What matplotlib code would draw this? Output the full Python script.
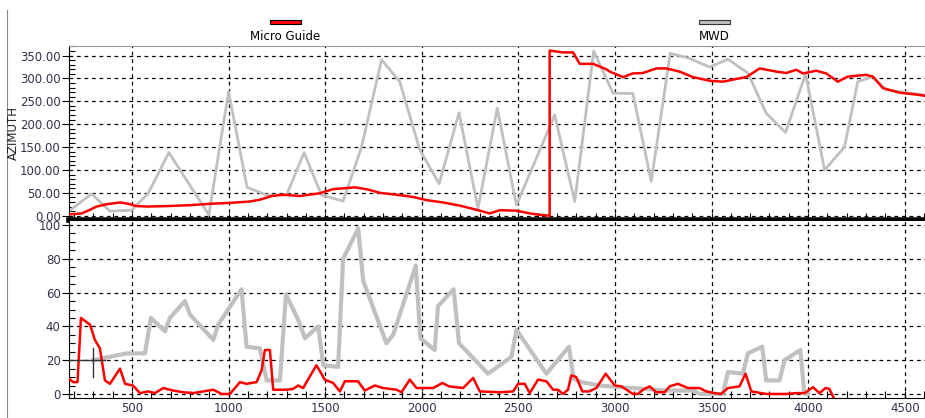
import matplotlib.pyplot as plt
from matplotlib.ticker import MultipleLocator, FormatStrFormatter
from matplotlib.lines import Line2D
from matplotlib.patches import Rectangle

# depth / azimuth - Micro Guide (red) and MWD (gray)
mg_az_depth = [174, 240, 283, 317, 369, 438, 481, 524, 582, 679, 800, 903, 1006, 1110, 1162,
               1223, 1281, 1369, 1436, 1472, 1540, 1654, 1714, 1783, 1886, 1955, 2025, 2110,
               2197, 2283, 2352, 2404, 2490, 2559, 2611, 2662, 2662, 2731, 2783, 2818, 2887,
               2956, 2973, 3042, 3092, 3145, 3214, 3266, 3335, 3404, 3490, 3559, 3628, 3680,
               3749, 3835, 3887, 3939, 3973, 4042, 4094, 4154, 4205, 4300, 4335, 4387, 4473,
               4576, 4605]
mg_az = [3, 5, 13, 20, 25, 29, 26, 21, 20, 21, 23, 26, 28, 31, 35,
         43, 46, 43, 47, 49, 58, 62, 58, 50, 45, 41, 34, 29,
         22, 13, 5, 12, 11, 5, 2, 0, 361, 357, 357, 332, 332,
         320, 315, 303, 311, 312, 322, 322, 315, 303, 295, 293, 299, 303,
         322, 315, 312, 319, 311, 317, 311, 293, 304, 308, 304, 279, 269,
         264, 262]

mwd_az_depth = [174, 291, 386, 498, 584, 691, 898, 1000, 1096, 1197, 1300, 1391, 1481, 1593,
                1688, 1792, 1886, 1990, 2090, 2193, 2291, 2391, 2490, 2688, 2792, 2890, 2990,
                3093, 3188, 3286, 3386, 3490, 3585, 3688, 3783, 3883, 3987, 4085, 4188, 4257,
                4335, 4404, 4602]
mwd_az = [10, 48, 10, 12, 49, 138, 2, 271, 62, 45, 45, 138, 45, 32,
          150, 341, 293, 144, 70, 225, 16, 235, 23, 220, 31, 360, 268,
          267, 75, 355, 344, 325, 342, 312, 224, 182, 310, 100, 150, 293,
          304, 275, 264]

# lower panel values
mg_low_depth = [174, 196, 218, 236, 283, 308, 334, 360, 386, 438, 464, 505, 541, 584, 619, 662,
                714, 765, 817, 869, 921, 964, 1007, 1059, 1093, 1145, 1171, 1188, 1214, 1231,
                1300, 1334, 1360, 1386, 1429, 1455, 1498, 1541, 1576, 1602, 1670, 1705, 1757,
                1800, 1869, 1895, 1938, 1973, 2059, 2107, 2141, 2214, 2266, 2300, 2404, 2473,
                2499, 2533, 2559, 2602, 2645, 2680, 2705, 2731, 2757, 2774, 2800, 2831, 2866,
                2904, 2952, 2999, 3033, 3093, 3119, 3145, 3179, 3214, 3257, 3283, 3326, 3378,
                3438, 3473, 3516, 3550, 3585, 3645, 3676, 3706, 3783, 3887, 3939, 3982, 4025,
                4059, 4090, 4110, 4135]
mg_low = [9, 7, 7, 45, 41, 32, 27, 8, 6, 15, 6, 5, 0.5, 1.5, 0.5, 3.5,
          2, 1, 0.5, 1.5, 2.5, 0, 0, 7, 6, 7, 14, 26, 26, 2.5,
          2.5, 3, 5, 3.5, 12, 17, 8.5, 6.5, 1.5, 7.5, 7.5, 2, 5,
          3.5, 2.5, 1, 8.5, 3.5, 3.5, 6.5, 4.5, 3.5, 9.5, 1.5, 1, 1.5,
          6, 6, 0.5, 8.5, 7.5, 2.5, 2.5, 0, 2.5, 11, 10, 1.5, 1.5,
          3.5, 12, 5, 4.5, 0, 0, 2.5, 4.5, 1, 1, 4.5, 6, 3.5,
          3.5, 1.5, 0.5, 0, 3.5, 4.5, 12, 1.5, 0, 0, 0.5, 0.5, 4,
          0.5, 3.5, 3, -3]

mwd_low_depth = [300, 472, 567, 598, 671, 696, 774, 800, 921, 946, 1067, 1093, 1162, 1197, 1266,
                 1297, 1360, 1395, 1464, 1490, 1567, 1593, 1671, 1697, 1817, 1852, 1969, 1993,
                 2067, 2084, 2165, 2193, 2343, 2464, 2490, 2645, 2762, 2786, 2826, 2921, 3025,
                 3093, 3266, 3404, 3438, 3559, 3585, 3662, 3688, 3762, 3783, 3852, 3878, 3960,
                 3980, 4000]
mwd_low = [20, 24, 24, 45, 37, 45, 55, 47, 32, 41, 62, 28, 27, 8, 8,
           59, 44, 33, 40, 17, 16, 80, 98, 67, 30, 35, 76, 33,
           26, 52, 62, 30, 12, 22, 38, 12, 28, 9, 7, 5, 4,
           3.5, 2, 2, 0, 0, 13, 12, 24, 28, 8, 8, 20, 26,
           0.5, 0]

cursor = (300, 20)

RED = '#ff0000'
GRAY = '#c0c0c0'
LABEL = '#33334d'

W, H = 925, 418
fig = plt.figure(figsize=(W / 100, H / 100), dpi=100)
ax1 = fig.add_axes([69 / W, 1 - 220 / H, 856 / W, 174 / H])
ax2 = fig.add_axes([69 / W, 1 - 398 / H, 856 / W, 177 / H])

ax1.plot(mwd_az_depth, mwd_az, color=GRAY, lw=2, zorder=2)
ax1.plot(mg_az_depth, mg_az, color=RED, lw=1.8, zorder=3)
ax2.plot(mwd_low_depth, mwd_low, color=GRAY, lw=3, zorder=2)
ax2.plot(mg_low_depth, mg_low, color=RED, lw=1.8, zorder=3)

# cursor cross
cx, cy = cursor
ax2.plot([cx, cx], [cy - 10, cy + 7], color='#333333', lw=1, zorder=4)
ax2.plot([174, cx + 60], [cy, cy], color='#333333', lw=1, zorder=4)

for ax in (ax1, ax2):
    ax.set_xlim(174, 4605)
    ax.xaxis.set_major_locator(MultipleLocator(500))
    ax.xaxis.set_minor_locator(MultipleLocator(100))
    ax.grid(True, which='major', color='black', linestyle=(0, (3, 3)), lw=0.9)
    ax.tick_params(axis='x', which='both', direction='in', length=5, colors='black',
                   labelcolor=LABEL, labelsize=8.5, width=0.8)
    ax.tick_params(axis='y', which='major', direction='out', length=5, labelcolor=LABEL,
                   labelsize=8.5, width=0.8, pad=1)
    ax.tick_params(axis='y', which='minor', direction='in', length=4, width=0.8)
    ax.spines['right'].set_visible(False)

ax1.set_ylim(-9.4, 371)
ax1.yaxis.set_major_locator(MultipleLocator(50))
ax1.yaxis.set_minor_locator(MultipleLocator(10))
ax1.yaxis.set_major_formatter(FormatStrFormatter('%.2f'))
ax1.tick_params(axis='x', labelbottom=False)
ax1.spines['bottom'].set_linewidth(4)
ax1.spines['top'].set_color('#999999')

ax2.set_ylim(-2.4, 102.4)
ax2.yaxis.set_major_locator(MultipleLocator(20))
ax2.yaxis.set_minor_locator(MultipleLocator(5))
ax2.spines['top'].set_visible(False)
ax2.tick_params(axis='x', pad=3)

# y label sits over the tick labels, as in the original
fig.text(13 / W, 1 - 133 / H, 'AZIMUTH', rotation=90, ha='center', va='center',
         fontsize=8.5, color='#222222')

# legend
fig.add_artist(Rectangle((270 / W, 1 - 24 / H), 31 / W, 4 / H, facecolor=RED,
                         edgecolor='black', lw=0.8, transform=fig.transFigure))
fig.text(285 / W, 1 - 36 / H, 'Micro Guide', ha='center', va='center', fontsize=8.5)
fig.add_artist(Rectangle((699 / W, 1 - 24 / H), 31 / W, 4 / H, facecolor=GRAY,
                         edgecolor='#333333', lw=0.8, transform=fig.transFigure))
fig.text(714 / W, 1 - 36 / H, 'MWD', ha='center', va='center', fontsize=8.5)

fig.add_artist(Line2D([7 / W, 7 / W], [0, 1 - 10 / H], color='#888888', lw=0.8,
                      transform=fig.transFigure))

fig.savefig('out.png', dpi=100)
